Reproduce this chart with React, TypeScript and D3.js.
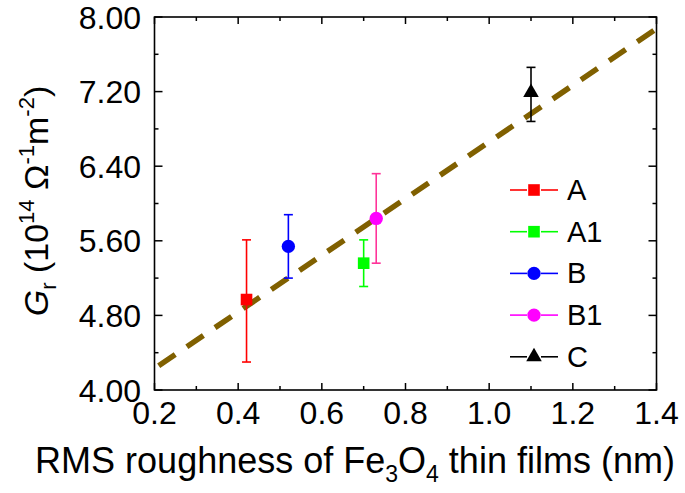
import React from 'react';
import * as d3 from 'd3';

const seriesNames = ['A', 'A1', 'B', 'B1', 'C'];
const xValues = [0.42, 0.70, 0.52, 0.73, 1.10];
const yValues = [4.97, 5.36, 5.54, 5.84, 7.19];
const yLower = [4.30, 5.11, 5.20, 5.36, 6.88];
const yUpper = [5.61, 5.61, 5.88, 6.32, 7.46];
const markerColors = ['#ff0000', '#00ff00', '#0000ff', '#ff00ff', '#000000'];
const errorColors = ['#ff0000', '#00ff00', '#0000ff', '#ff3399', '#000000'];
const legendLineColors = ['#ff0000', '#00ff00', '#0000ff', '#ff00ff', '#000000'];
const markerShapes = ['square', 'square', 'circle', 'circle', 'triangle'];
const fitX = [0.21, 1.395];
const fitY = [4.26, 7.86];
const xTicks = [0.2, 0.4, 0.6, 0.8, 1.0, 1.2, 1.4];
const xMinorTicks = [0.3, 0.5, 0.7, 0.9, 1.1, 1.3];
const yTicks = [4.0, 4.8, 5.6, 6.4, 7.2, 8.0];
const yMinorTicks = [4.4, 5.2, 6.0, 6.8, 7.6];

const W = 685;
const H = 493;
const M = { left: 154.5, right: 656.5, top: 17, bottom: 390 };
const FONT = '"Liberation Sans", Arial, sans-serif';

const symbolFor = (s: string) =>
  s === 'square' ? d3.symbolSquare : s === 'circle' ? d3.symbolCircle : d3.symbolTriangle;
const sizeFor = (s: string) => (s === 'square' ? 135 : s === 'circle' ? 140 : 105);

export default function App() {
  const x = d3.scaleLinear().domain([0.2, 1.4]).range([M.left, M.right]);
  const y = d3.scaleLinear().domain([4.0, 8.0]).range([M.bottom, M.top]);
  const line = d3.line<number>().x((_, i) => x(fitX[i])).y((d) => y(d));

  const legendX = 534;
  const legendY0 = 190;
  const legendDy = 41.7;

  return (
    <svg width={W} height={H} style={{ position: 'fixed', left: 0, top: 0, background: '#fff' }} fontFamily={FONT}>
      <rect x={0} y={0} width={W} height={H} fill="#fff" />
      {/* fit line */}
      <path d={line(fitY) || ''} fill="none" stroke="#806000" strokeWidth={5.5} strokeDasharray="20 14" />
      {/* frame */}
      <rect x={M.left} y={M.top} width={M.right - M.left} height={M.bottom - M.top} fill="none" stroke="#000" strokeWidth={1.6} />
      {/* x ticks */}
      {xTicks.map((t) => (
        <g key={'xt' + t}>
          <line x1={x(t)} x2={x(t)} y1={M.bottom} y2={M.bottom - 7} stroke="#000" strokeWidth={1.5} />
          <line x1={x(t)} x2={x(t)} y1={M.top} y2={M.top + 7} stroke="#000" strokeWidth={1.5} />
          <text x={x(t)} y={424} textAnchor="middle" fontSize={32}>{t.toFixed(1)}</text>
        </g>
      ))}
      {xMinorTicks.map((t) => (
        <g key={'xm' + t}>
          <line x1={x(t)} x2={x(t)} y1={M.bottom} y2={M.bottom - 4} stroke="#000" strokeWidth={1.5} />
          <line x1={x(t)} x2={x(t)} y1={M.top} y2={M.top + 4} stroke="#000" strokeWidth={1.5} />
        </g>
      ))}
      {/* y ticks */}
      {yTicks.map((t) => (
        <g key={'yt' + t}>
          <line x1={M.left} x2={M.left + 8} y1={y(t)} y2={y(t)} stroke="#000" strokeWidth={1.5} />
          <line x1={M.right} x2={M.right - 8} y1={y(t)} y2={y(t)} stroke="#000" strokeWidth={1.5} />
          <text x={141} y={y(t) + 11.5} textAnchor="end" fontSize={32}>{t.toFixed(2)}</text>
        </g>
      ))}
      {yMinorTicks.map((t) => (
        <g key={'ym' + t}>
          <line x1={M.left} x2={M.left + 4} y1={y(t)} y2={y(t)} stroke="#000" strokeWidth={1.5} />
          <line x1={M.right} x2={M.right - 4} y1={y(t)} y2={y(t)} stroke="#000" strokeWidth={1.5} />
        </g>
      ))}
      {/* error bars and markers */}
      {seriesNames.map((n, i) => {
        const cx = x(xValues[i]);
        return (
          <g key={'pt' + n}>
            <line x1={cx} x2={cx} y1={y(yLower[i])} y2={y(yUpper[i])} stroke={errorColors[i]} strokeWidth={1.6} />
            <line x1={cx - 4.5} x2={cx + 4.5} y1={y(yLower[i])} y2={y(yLower[i])} stroke={errorColors[i]} strokeWidth={1.6} />
            <line x1={cx - 4.5} x2={cx + 4.5} y1={y(yUpper[i])} y2={y(yUpper[i])} stroke={errorColors[i]} strokeWidth={1.6} />
            <path
              d={d3.symbol().type(symbolFor(markerShapes[i])).size(sizeFor(markerShapes[i]))() || ''}
              transform={`translate(${cx},${y(yValues[i])})`}
              fill={markerColors[i]}
            />
          </g>
        );
      })}
      {/* legend */}
      {seriesNames.map((n, i) => {
        const ly = legendY0 + i * legendDy;
        return (
          <g key={'lg' + n}>
            <line x1={legendX - 24} x2={legendX - 7} y1={ly} y2={ly} stroke={legendLineColors[i]} strokeWidth={1.6} />
            <line x1={legendX + 7} x2={legendX + 24} y1={ly} y2={ly} stroke={legendLineColors[i]} strokeWidth={1.6} />
            <path
              d={d3.symbol().type(symbolFor(markerShapes[i])).size(sizeFor(markerShapes[i]))() || ''}
              transform={`translate(${legendX},${ly})`}
              fill={markerColors[i]}
            />
            <text x={567} y={ly + 10} fontSize={29}>{n}</text>
          </g>
        );
      })}
      {/* x title */}
      <text x={355} y={473} textAnchor="middle" fontSize={36}>
        <tspan>RMS roughness of Fe</tspan>
        <tspan fontSize={23} dy={9}>3</tspan>
        <tspan dy={-9}>O</tspan>
        <tspan fontSize={23} dy={9}>4</tspan>
        <tspan dy={-9}> thin films (nm)</tspan>
      </text>
      {/* y title */}
      <text transform="translate(48,201) rotate(-90)" textAnchor="middle" fontSize={34}>
        <tspan fontStyle="italic">G</tspan>
        <tspan fontSize={22} dy={8}>r</tspan>
        <tspan dy={-8}> (10</tspan>
        <tspan fontSize={22} dy={-14}>14</tspan>
        <tspan dy={14}> Ω</tspan>
        <tspan fontSize={22} dy={-14}>-1</tspan>
        <tspan dy={14}>m</tspan>
        <tspan fontSize={22} dy={-14}>-2</tspan>
        <tspan dy={14}>)</tspan>
      </text>
    </svg>
  );
}
